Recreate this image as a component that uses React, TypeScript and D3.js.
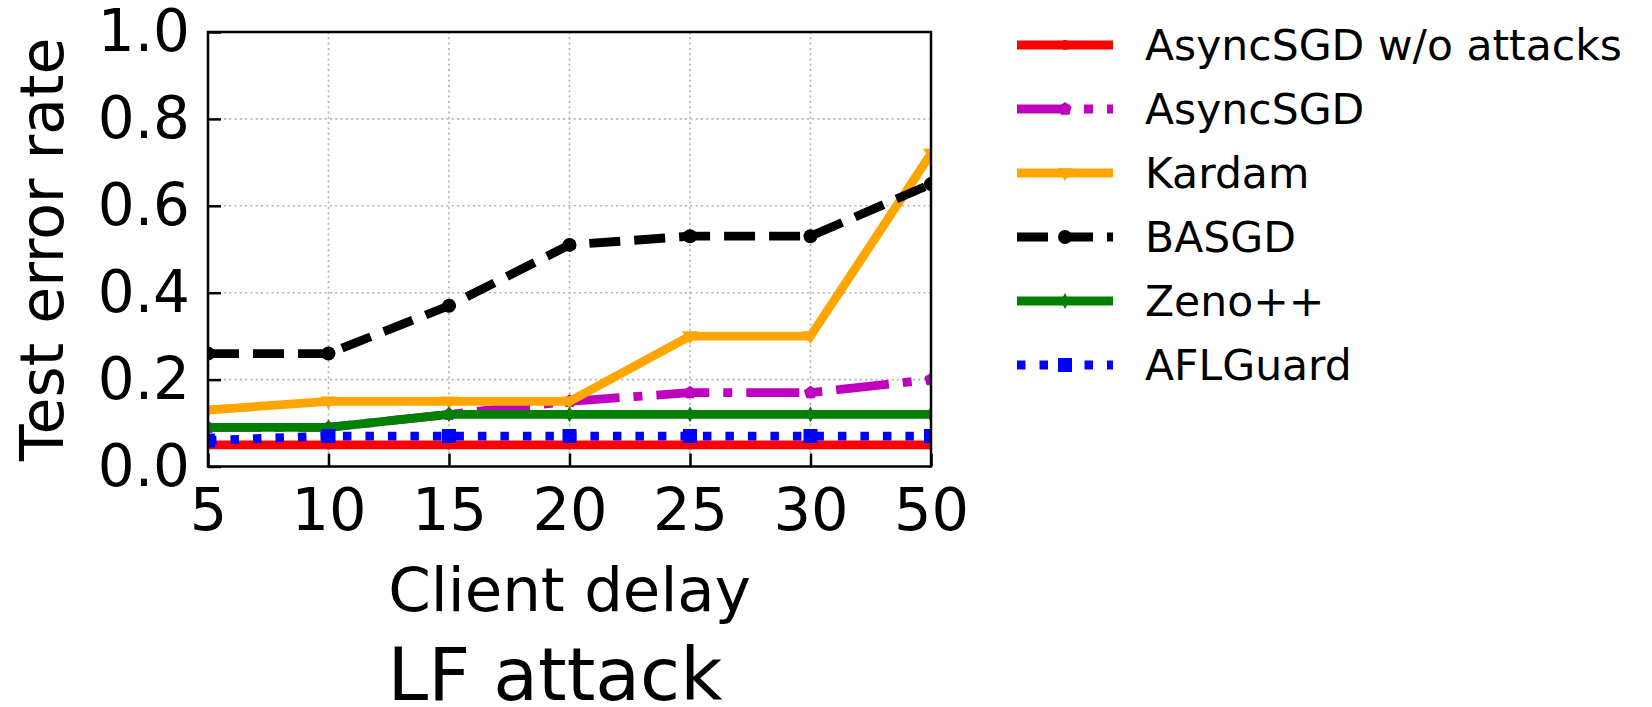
import React, { useEffect, useRef } from 'react';
import * as d3 from 'd3';

const delays = ['5', '10', '15', '20', '25', '30', '50'];
const yTicks = [0, 0.2, 0.4, 0.6, 0.8, 1.0];

const noAttack = [0.05, 0.05, 0.05, 0.05, 0.05, 0.05, 0.05];
const asyncSgd = [0.09, 0.09, 0.12, 0.15, 0.17, 0.17, 0.2];
const kardam = [0.13, 0.15, 0.15, 0.15, 0.3, 0.3, 0.72];
const basgd = [0.26, 0.26, 0.37, 0.51, 0.53, 0.53, 0.65];
const zeno = [0.09, 0.09, 0.12, 0.12, 0.12, 0.12, 0.12];
const aflGuard = [0.06, 0.07, 0.07, 0.07, 0.07, 0.07, 0.07];

const series = [
  { name: 'AsyncSGD w/o attacks', values: noAttack, color: '#ff0000', dash: null, marker: 'circle', size: 5 },
  { name: 'AsyncSGD', values: asyncSgd, color: '#bf00bf', dash: '53,14,9,14', marker: 'pentagon', size: 7 },
  { name: 'Kardam', values: kardam, color: '#ffa500', dash: null, marker: 'tri', size: 8 },
  { name: 'BASGD', values: basgd, color: '#000000', dash: '31,14', marker: 'circle', size: 7 },
  { name: 'Zeno++', values: zeno, color: '#008000', dash: null, marker: 'diamond', size: 8 },
  { name: 'AFLGuard', values: aflGuard, color: '#0000ff', dash: '8.5,14', marker: 'square', size: 7 },
];

const W = 1652;
const H = 707;
const m = { left: 208, right: 931, top: 32, bottom: 466.5 };
const FONT = 'DejaVu Sans, sans-serif';
const LW = 8.8;

// marker path centred on 0,0
function markerPath(kind, s) {
  if (kind === 'circle') return d3.symbol(d3.symbolCircle, Math.PI * s * s)();
  if (kind === 'square') return `M${-s},${-s}H${s}V${s}H${-s}Z`;
  if (kind === 'tri') return `M${-s},${-s * 0.6}L${s},${-s * 0.6}L0,${s}Z`;
  if (kind === 'diamond') return `M0,${-s}L${s * 0.55},0L0,${s}L${-s * 0.55},0Z`;
  const pts = d3.range(5).map(i => {
    const a = -Math.PI / 2 + (i * 2 * Math.PI) / 5;
    return [s * Math.cos(a), s * Math.sin(a)];
  });
  return 'M' + pts.map(p => p.join(',')).join('L') + 'Z';
}

const App = () => {
  const svgRef = useRef(null);

  useEffect(() => {
    document.body.style.margin = '0';
    const svg = d3.select(svgRef.current);
    svg.selectAll('*').remove();

    const x = d3.scalePoint().domain(delays).range([m.left, m.right]);
    const y = d3.scaleLinear().domain([0, 1]).range([m.bottom, m.top]);

    svg.append('defs').append('clipPath').attr('id', 'plotclip')
      .append('rect')
      .attr('x', m.left).attr('y', m.top)
      .attr('width', m.right - m.left).attr('height', m.bottom - m.top);

    // grid
    const grid = svg.append('g');
    grid.selectAll('.gx').data(delays.slice(1, -1)).enter().append('line')
      .attr('x1', d => x(d)).attr('x2', d => x(d))
      .attr('y1', m.top).attr('y2', m.bottom)
      .attr('stroke', '#b0b0b0').attr('stroke-width', 1.6).attr('stroke-dasharray', '2,3.3');
    grid.selectAll('.gy').data(yTicks.slice(1, -1)).enter().append('line')
      .attr('x1', m.left).attr('x2', m.right)
      .attr('y1', d => y(d)).attr('y2', d => y(d))
      .attr('stroke', '#b0b0b0').attr('stroke-width', 1.6).attr('stroke-dasharray', '2,3.3');

    const plot = svg.append('g').attr('clip-path', 'url(#plotclip)');
    const line = d3.line().x((d, i) => x(delays[i])).y(d => y(d));

    series.forEach(s => {
      plot.append('path')
        .attr('d', line(s.values))
        .attr('fill', 'none')
        .attr('stroke', s.color)
        .attr('stroke-width', LW)
        .attr('stroke-linejoin', 'round')
        .attr('stroke-dasharray', s.dash);
      plot.selectAll(null).data(s.values).enter().append('path')
        .attr('d', markerPath(s.marker, s.size))
        .attr('transform', (d, i) => `translate(${x(delays[i])},${y(d)})`)
        .attr('fill', s.color);
    });

    // frame
    svg.append('rect')
      .attr('x', m.left).attr('y', m.top)
      .attr('width', m.right - m.left).attr('height', m.bottom - m.top)
      .attr('fill', 'none').attr('stroke', '#000').attr('stroke-width', 2.5);

    // ticks (inward)
    const xAxis = svg.append('g').attr('transform', `translate(0,${m.bottom})`)
      .call(d3.axisBottom(x).tickSizeInner(-13).tickSizeOuter(0).tickPadding(22));
    xAxis.select('.domain').remove();
    xAxis.selectAll('line').attr('stroke-width', 2.5);
    xAxis.selectAll('text').attr('font-size', 59).attr('font-family', FONT).attr('fill', '#000');

    const yAxis = svg.append('g').attr('transform', `translate(${m.left},0)`)
      .call(d3.axisLeft(y).tickValues(yTicks).tickFormat(d3.format('.1f'))
        .tickSizeInner(-13).tickSizeOuter(0).tickPadding(18));
    yAxis.select('.domain').remove();
    yAxis.selectAll('line').attr('stroke-width', 2.5);
    yAxis.selectAll('text').attr('font-size', 58).attr('font-family', FONT).attr('fill', '#000');

    // axis labels
    svg.append('text')
      .attr('transform', `translate(63,${(m.top + m.bottom) / 2}) rotate(-90)`)
      .attr('text-anchor', 'middle')
      .attr('font-size', 60).attr('font-family', FONT)
      .text('Test error rate');
    svg.append('text')
      .attr('x', (m.left + m.right) / 2).attr('y', 611)
      .attr('text-anchor', 'middle')
      .attr('font-size', 61).attr('font-family', FONT)
      .text('Client delay');
    svg.append('text')
      .attr('x', 555).attr('y', 700)
      .attr('text-anchor', 'middle')
      .attr('font-size', 73).attr('font-family', FONT)
      .text('LF attack');

    // legend
    const legend = svg.append('g');
    series.forEach((s, i) => {
      const ly = 45 + i * 64;
      legend.append('line')
        .attr('x1', 1017).attr('x2', 1113).attr('y1', ly).attr('y2', ly)
        .attr('stroke', s.color).attr('stroke-width', LW)
        .attr('stroke-dasharray', s.dash);
      legend.append('path')
        .attr('d', markerPath(s.marker, s.size))
        .attr('transform', `translate(1065,${ly})`)
        .attr('fill', s.color);
      legend.append('text')
        .attr('x', 1145).attr('y', ly)
        .attr('dy', '0.36em')
        .attr('font-size', 42.5).attr('font-family', FONT)
        .text(s.name);
    });
  }, []);

  return <svg ref={svgRef} width={W} height={H} style={{ display: 'block', background: '#fff' }} />;
};

export default App;
